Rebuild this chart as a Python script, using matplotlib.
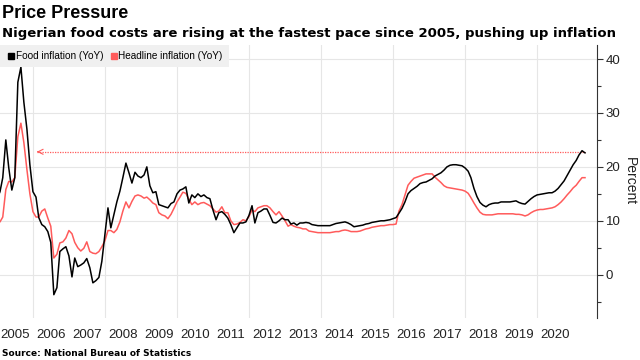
import matplotlib
matplotlib.use("Agg")
import matplotlib.pyplot as plt
from matplotlib.lines import Line2D
from matplotlib.ticker import MultipleLocator
import pandas as pd
import datetime as dt

# Monthly year-on-year inflation (%), Jan 2005 onwards
food = [
    14, 15.4, 18, 25, 19.8, 15.7, 18, 35.7, 38.5, 32, 27, 20.4,            # 2005
    15.4, 14.4, 10.6, 9.3, 8.9, 8, 6, -3.7, -2.4, 4.3, 4.8, 5.2,           # 2006
    3.5, -0.4, 3.1, 1.5, 1.8, 2.2, 3, 1.3, -1.5, -1.1, -0.5, 2.5,          # 2007
    7.5, 12.4, 8.7, 11.1, 13.5, 15.5, 18, 20.7, 18.9, 17, 19, 18.3,        # 2008
    18, 18.5, 20, 16.5, 15.2, 15.4, 13, 12.8, 12.6, 12.4, 13.2, 13.5,      # 2009
    15, 15.7, 15.9, 16.3, 13.3, 14.8, 14.3, 15, 14.5, 14.8, 14.3, 14.1,    # 2010
    12, 10.2, 11.5, 11.7, 11.2, 10.5, 9.3, 7.8, 8.7, 9.6, 9.6, 9.8,        # 2011
    11, 12.8, 9.6, 11.5, 11.8, 12.2, 12.2, 11, 9.7, 9.6, 10, 10.5,         # 2012
    10.2, 10.2, 9.4, 9.6, 9.2, 9.6, 9.6, 9.7, 9.6, 9.3, 9.2, 9.1,          # 2013
    9.1, 9.1, 9.1, 9.1, 9.3, 9.5, 9.6, 9.7, 9.8, 9.6, 9.3, 8.9,            # 2014
    9.0, 9.1, 9.2, 9.4, 9.5, 9.7, 9.8, 9.9, 10, 10, 10.1, 10.2,            # 2015
    10.4, 10.6, 11.4, 12.3, 13.5, 15, 15.6, 16, 16.4, 16.9, 17.1, 17.2,    # 2016
    17.5, 17.8, 18.3, 18.6, 18.9, 19.4, 20, 20.3, 20.4, 20.4, 20.3, 20.2,  # 2017
    19.8, 19.2, 18, 16, 14.5, 13.4, 12.9, 12.6, 13, 13.2, 13.3, 13.3,      # 2018
    13.5, 13.5, 13.5, 13.5, 13.6, 13.7, 13.4, 13.2, 13.1, 13.6, 14.1, 14.5,  # 2019
    14.8, 14.9, 15.0, 15.1, 15.2, 15.2, 15.5, 16.0, 16.7, 17.4, 18.4, 19.4,  # 2020
    20.4, 21.2, 22.2, 23.0, 22.6,                                          # 2021
]
headline = [
    10, 9.8, 10.7, 15.8, 17.3, 17.2, 18, 25.6, 28.1, 24.5, 19.5, 15,       # 2005
    11.7, 10.7, 10.7, 11.8, 12.2, 10.5, 9, 3.1, 3.8, 5.9, 6.1, 6.8,        # 2006
    8.2, 7.6, 6, 5, 4.4, 4.9, 6.1, 4.3, 4, 3.9, 4.3, 5.2,                  # 2007
    6.3, 8.2, 8.2, 7.8, 8.4, 9.8, 11.8, 13.5, 12.4, 13.6, 14.6, 14.8,      # 2008
    14.6, 14.2, 14.4, 13.9, 13.3, 13, 11.5, 11.1, 10.9, 10.4, 11.2, 12.3,  # 2009
    13.5, 14.4, 15.3, 15.1, 14, 13, 13.5, 13, 13.3, 13.4, 13.1, 12.8,      # 2010
    12.2, 11.6, 11.8, 12.6, 11.5, 11.5, 10, 9.3, 9.4, 9.7, 10.2, 10,       # 2011
    10.8, 12, 11.7, 12.4, 12.6, 12.8, 12.8, 12.4, 11.7, 11.1, 11.7, 10.9,  # 2012
    10, 9, 9.3, 9, 8.8, 8.7, 8.5, 8.5, 8.1, 8, 7.9, 7.8,                   # 2013
    7.8, 7.8, 7.8, 7.8, 7.9, 8, 8, 8.2, 8.3, 8.2, 8.0, 8.0,                # 2014
    8.0, 8.1, 8.3, 8.5, 8.6, 8.8, 8.9, 9.0, 9.1, 9.1, 9.2, 9.3,            # 2015
    9.3, 9.4, 11.8, 13, 14.8, 16.6, 17.3, 17.9, 18.1, 18.3, 18.5, 18.7,    # 2016
    18.7, 18.7, 18.1, 17.6, 17.1, 16.5, 16.2, 16.1, 16.0, 15.9, 15.8, 15.7,  # 2017
    15.5, 15.1, 14.3, 13.3, 12.4, 11.6, 11.2, 11.1, 11.1, 11.1, 11.2, 11.3,  # 2018
    11.3, 11.3, 11.3, 11.3, 11.3, 11.2, 11.2, 11.1, 10.9, 11.1, 11.5, 11.8,  # 2019
    12, 12.1, 12.1, 12.2, 12.3, 12.4, 12.6, 13, 13.5, 14.1, 14.8, 15.4,    # 2020
    16.1, 16.6, 17.3, 18.0, 18.0,                                          # 2021
]
years = list(range(2005, 2021))
series_names = ["Food inflation (YoY)", "Headline inflation (YoY)"]
arrow_level = 22.8
arrow_start = "2006-02-10"

BLACK = "#000000"
RED = "#ff5b5b"
NARROW = ["Liberation Sans", "DejaVu Sans"]

dates = pd.date_range("2005-01-01", periods=len(food), freq="MS")

fig = plt.figure(figsize=(6.4, 3.6), dpi=100)
ax = fig.add_axes([0.0, 0.117, 0.933, 0.758])

# grid
for y in range(0, 41, 10):
    ax.axhline(y, color="#e6e6e6", lw=0.8, zorder=0)
for yr in range(2006, 2021, 2):
    ax.axvline(dt.datetime(yr, 1, 1), color="#e6e6e6", lw=0.8, zorder=0)

ax.plot(dates, headline, color=RED, lw=1.1, zorder=3)
ax.plot(dates, food, color=BLACK, lw=1.1, zorder=4)

# "fastest since 2005" reference line
ax.plot([pd.Timestamp(arrow_start), dates[-1]], [arrow_level, arrow_level],
        color=RED, lw=0.9, ls=(0, (1, 1)), zorder=2)
ax.annotate("", xy=(pd.Timestamp(arrow_start), arrow_level),
            xytext=(pd.Timestamp(arrow_start) + pd.Timedelta(days=20), arrow_level),
            arrowprops=dict(arrowstyle="->", color=RED, lw=0.8,
                            mutation_scale=9, shrinkA=0, shrinkB=0))

ax.set_ylim(-8, 42.6)
ax.set_xlim(dt.datetime(2005, 2, 1), dt.datetime(2021, 9, 1))

for s in ["top", "left", "bottom"]:
    ax.spines[s].set_visible(False)
ax.spines["right"].set_color("#333333")
ax.spines["right"].set_linewidth(0.8)

ax.yaxis.tick_right()
ax.yaxis.set_label_position("right")
ax.yaxis.set_major_locator(MultipleLocator(10))
ax.yaxis.set_minor_locator(MultipleLocator(5))
ax.tick_params(axis="y", which="major", length=4, width=0.8, color="#333333",
               pad=2, labelcolor="#222222")
ax.tick_params(axis="y", which="minor", length=3, width=0.8, color="#333333")
for lab in ax.get_yticklabels():
    lab.set_family(NARROW)
    lab.set_fontsize(9.5)
ax.set_ylabel("Percent", rotation=-90, fontsize=10, labelpad=12,
              color="#222222", family=NARROW)

ax.set_xticks([dt.datetime(y, 7, 1) for y in years])
ax.set_xticklabels([str(y) for y in years], family=NARROW, fontsize=9.5)
ax.tick_params(axis="x", length=0, pad=8, labelcolor="#222222")

handles = [Line2D([], [], marker="s", ls="none", color=BLACK, markersize=5),
           Line2D([], [], marker="s", ls="none", color=RED, markersize=5)]
leg = ax.legend(handles, series_names, loc="upper left", ncol=2, frameon=True,
                prop={"family": NARROW, "size": 7.2}, handletextpad=0.0,
                columnspacing=0.5, borderaxespad=0.0, handlelength=1.0,
                borderpad=0.6, bbox_to_anchor=(0.0, 1.0))
leg.get_frame().set_facecolor("#f0f0f0")
leg.get_frame().set_edgecolor("none")
leg.get_frame().set_boxstyle("square", pad=0)
leg.get_frame().set_alpha(1)

fig.text(0.003, 0.962, "Price Pressure", fontsize=13, fontweight="bold",
         ha="left", va="center", family=["Liberation Sans", "DejaVu Sans"])
fig.text(0.003, 0.908, "Nigerian food costs are rising at the fastest pace since 2005, pushing up inflation",
         fontsize=9.5, fontweight="bold", ha="left", va="center")
fig.text(0.003, 0.018, "Source: National Bureau of Statistics", fontsize=6.5,
         fontweight="bold", ha="left", va="center")

fig.savefig("out.png", dpi=100)
